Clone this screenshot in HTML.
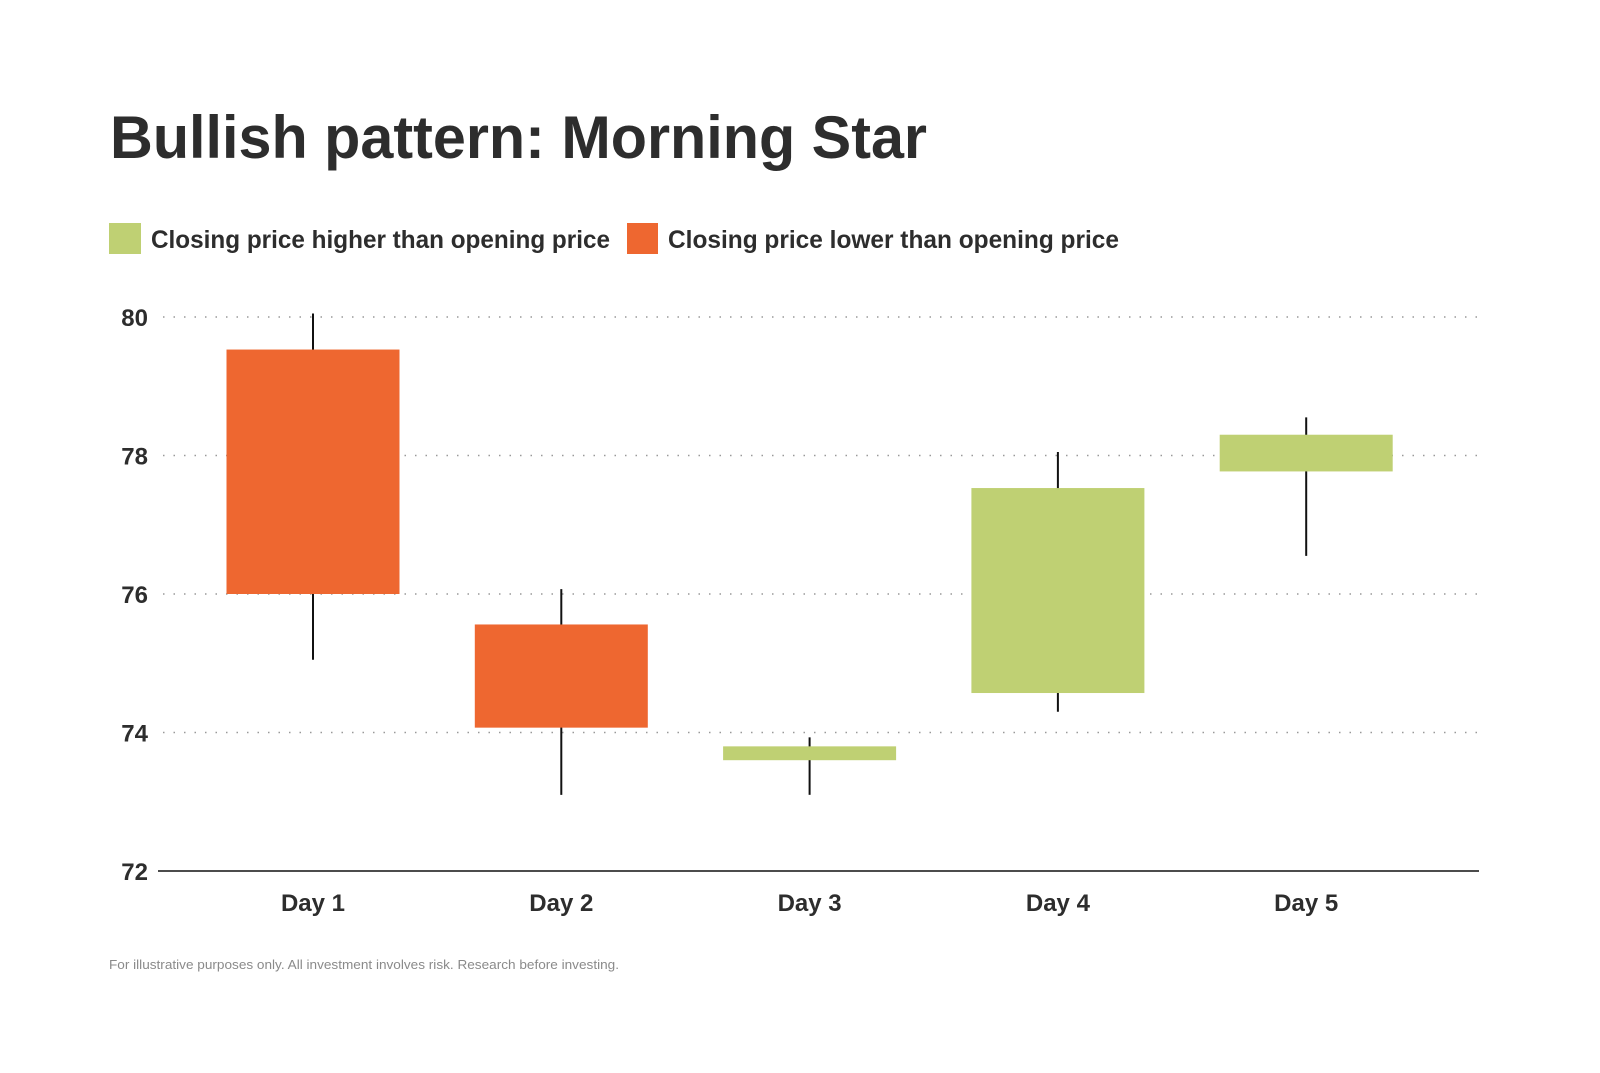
<!DOCTYPE html>
<html><head><meta charset="utf-8"><style>
body{margin:0;background:#fff;}
svg{display:block;font-family:"Liberation Sans",sans-serif;}
</style></head><body>
<svg id="chart" width="1600" height="1073" viewBox="0 0 1600 1073">
<text x="110" y="158" font-size="60" font-weight="bold" fill="#2d2d2d" textLength="817" lengthAdjust="spacingAndGlyphs">Bullish pattern: Morning Star</text>
<g>
<rect x="109" y="223" width="32" height="31" fill="#bfd073"/>
<text x="151" y="248" font-size="25" font-weight="bold" fill="#2d2d2d" textLength="459" lengthAdjust="spacingAndGlyphs">Closing price higher than opening price</text>
<rect x="627" y="223" width="31" height="31" fill="#ee6730"/>
<text x="668" y="248" font-size="25" font-weight="bold" fill="#2d2d2d" textLength="451" lengthAdjust="spacingAndGlyphs">Closing price lower than opening price</text>
</g>
<g id="grid"></g>
<g id="marks"></g>
<line x1="158" x2="1479" y1="871" y2="871" stroke="#111" stroke-width="1.5"/>
<text x="109" y="969" font-size="13" fill="#8a8a8a" textLength="510" lengthAdjust="spacingAndGlyphs">For illustrative purposes only. All investment involves risk. Research before investing.</text>
</svg>
<script>
const days=["Day 1","Day 2","Day 3","Day 4","Day 5"];
const openV=[79.53,75.56,73.6,74.57,77.77];
const closeV=[76.0,74.07,73.8,77.53,78.3];
const highV=[80.05,76.07,73.93,78.05,78.55];
const lowV=[75.05,73.1,73.1,74.3,76.55];
const yTicks=[72,74,76,78,80];
const NS="http://www.w3.org/2000/svg";
const y=v=>871-(v-72)*69.25;
const x=i=>313+i*248.3;
const grid=document.getElementById('grid'),marks=document.getElementById('marks');
function mk(tag,attrs,parent){const e=document.createElementNS(NS,tag);for(const k in attrs)e.setAttribute(k,attrs[k]);parent.appendChild(e);return e;}
yTicks.forEach(t=>{
  if(t>72){const l=mk('line',{x1:163,x2:1479,y1:y(t),y2:y(t),stroke:'#999','stroke-width':1.5,'stroke-dasharray':'1.5 9'},grid);
  
  }
  const tx=mk('text',{x:148,y:y(t)+9,'font-size':24,'font-weight':'bold',fill:'#2d2d2d','text-anchor':'end'},grid);
  tx.textContent=t;
  
  
});
days.forEach((d,i)=>{
  const up=closeV[i]>openV[i];
  const w=mk('line',{x1:x(i),x2:x(i),y1:y(highV[i]),y2:y(lowV[i]),stroke:'#111','stroke-width':2},marks);
  
  
  const top=Math.max(openV[i],closeV[i]),bot=Math.min(openV[i],closeV[i]);
  const r=mk('rect',{x:x(i)-86.5,width:173,y:y(top),height:y(bot)-y(top),fill:up?'#bfd073':'#ee6730'},marks);
  
  
  const t=mk('text',{x:x(i),y:911,'font-size':24,'font-weight':'bold',fill:'#2d2d2d','text-anchor':'middle'},marks);
  t.textContent=d;
  
  
});
</script>
</body></html>
